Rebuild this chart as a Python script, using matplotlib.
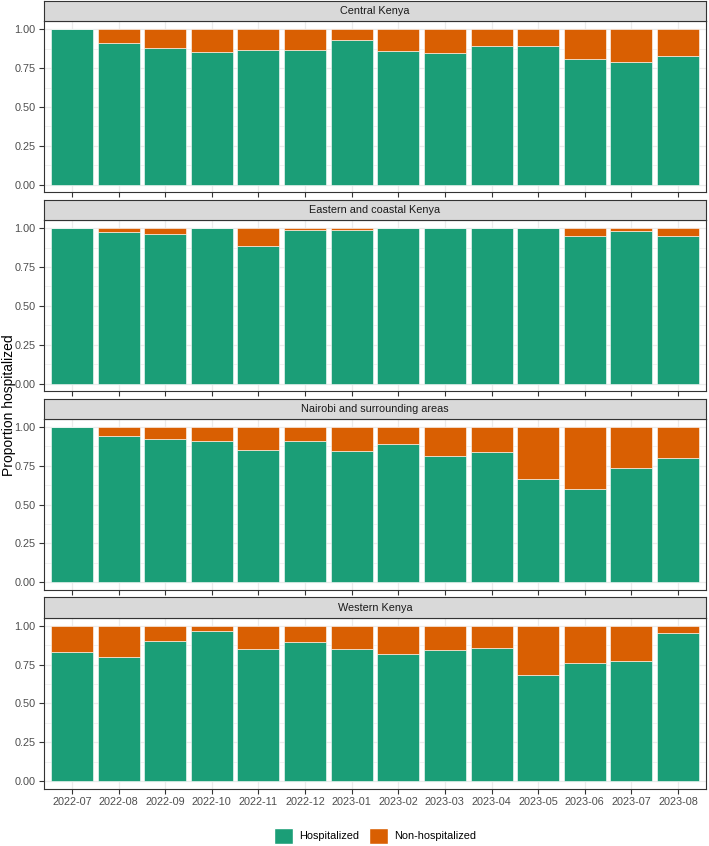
import numpy as np
import matplotlib.pyplot as plt
from matplotlib.patches import Patch

plt.rcParams['font.family'] = ['Liberation Sans', 'DejaVu Sans']

months = ['2022-07', '2022-08', '2022-09', '2022-10', '2022-11', '2022-12', '2023-01',
          '2023-02', '2023-03', '2023-04', '2023-05', '2023-06', '2023-07', '2023-08']
regions = ['Central Kenya', 'Eastern and coastal Kenya',
           'Nairobi and surrounding areas', 'Western Kenya']

# proportion hospitalized
hosp_central = [1.00, 0.914, 0.880, 0.854, 0.865, 0.865, 0.931, 0.860, 0.845, 0.890, 0.890, 0.809, 0.787, 0.828]
hosp_eastern = [1.00, 0.972, 0.964, 1.00, 0.882, 0.987, 0.989, 1.00, 1.00, 1.00, 1.00, 0.951, 0.981, 0.946]
hosp_nairobi = [1.00, 0.940, 0.925, 0.908, 0.850, 0.908, 0.845, 0.888, 0.815, 0.841, 0.665, 0.603, 0.738, 0.798]
hosp_western = [0.829, 0.801, 0.904, 0.968, 0.853, 0.893, 0.848, 0.816, 0.844, 0.857, 0.684, 0.763, 0.774, 0.955]
hosp_all = [hosp_central, hosp_eastern, hosp_nairobi, hosp_western]

green = '#1B9E77'
orange = '#D95F02'

W, H = 709, 846
fig = plt.figure(figsize=(W / 100, H / 100), dpi=100)

left, right = 44, 706
x = np.arange(len(months))
for i, (reg, hosp) in enumerate(zip(regions, hosp_all)):
    top = 21.5 + i * 198.8
    ax = fig.add_axes([left / W, 1 - (top + 171) / H, (right - left) / W, 171 / H])
    st = fig.add_axes([left / W, 1 - top / H, (right - left) / W, 20.5 / H])

    hosp = np.array(hosp)
    ax.bar(x, hosp, width=0.9, color=green, edgecolor='white', linewidth=0.4, zorder=3)
    ax.bar(x, 1 - hosp, bottom=hosp, width=0.9, color=orange, edgecolor='white', linewidth=0.4, zorder=3)

    ax.set_xlim(-0.6, len(months) - 0.4)
    ax.set_ylim(-0.05, 1.05)
    ax.set_yticks([0, 0.25, 0.5, 0.75, 1.0])
    ax.set_yticklabels(['0.00', '0.25', '0.50', '0.75', '1.00'])
    ax.set_yticks([0.125, 0.375, 0.625, 0.875], minor=True)
    ax.set_xticks(x)
    if i == 3:
        ax.set_xticklabels(months)
    else:
        ax.set_xticklabels([])
    ax.grid(True, which='major', color='#EBEBEB', linewidth=0.9, zorder=0)
    ax.grid(True, which='minor', axis='y', color='#EBEBEB', linewidth=0.5, zorder=0)
    ax.tick_params(which='major', length=3.5, width=0.8, color='#333333',
                   labelsize=7.8, labelcolor='#4D4D4D', pad=2.5)
    ax.tick_params(which='minor', length=0)
    for s in ax.spines.values():
        s.set_color('#333333')
        s.set_linewidth(0.8)

    st.set_facecolor('#D9D9D9')
    st.set_xticks([])
    st.set_yticks([])
    for s in st.spines.values():
        s.set_color('#333333')
        s.set_linewidth(0.8)
    st.text(0.5, 0.5, reg, ha='center', va='center', fontsize=7.8, color='#1A1A1A',
            transform=st.transAxes)

fig.text(1.5 / W, 1 - 405 / H, 'Proportion hospitalized', rotation=90,
         ha='left', va='center', fontsize=10, color='black')

handles = [Patch(facecolor=green, edgecolor='white', label='Hospitalized'),
           Patch(facecolor=orange, edgecolor='white', label='Non-hospitalized')]
fig.legend(handles=handles, loc='center', bbox_to_anchor=(375 / W, 10 / H), ncol=2,
           frameon=False, fontsize=7.8, handlelength=1.75, handleheight=1.85,
           handletextpad=0.6, columnspacing=0.9, borderpad=0.1)

fig.savefig('out.png', dpi=100)
